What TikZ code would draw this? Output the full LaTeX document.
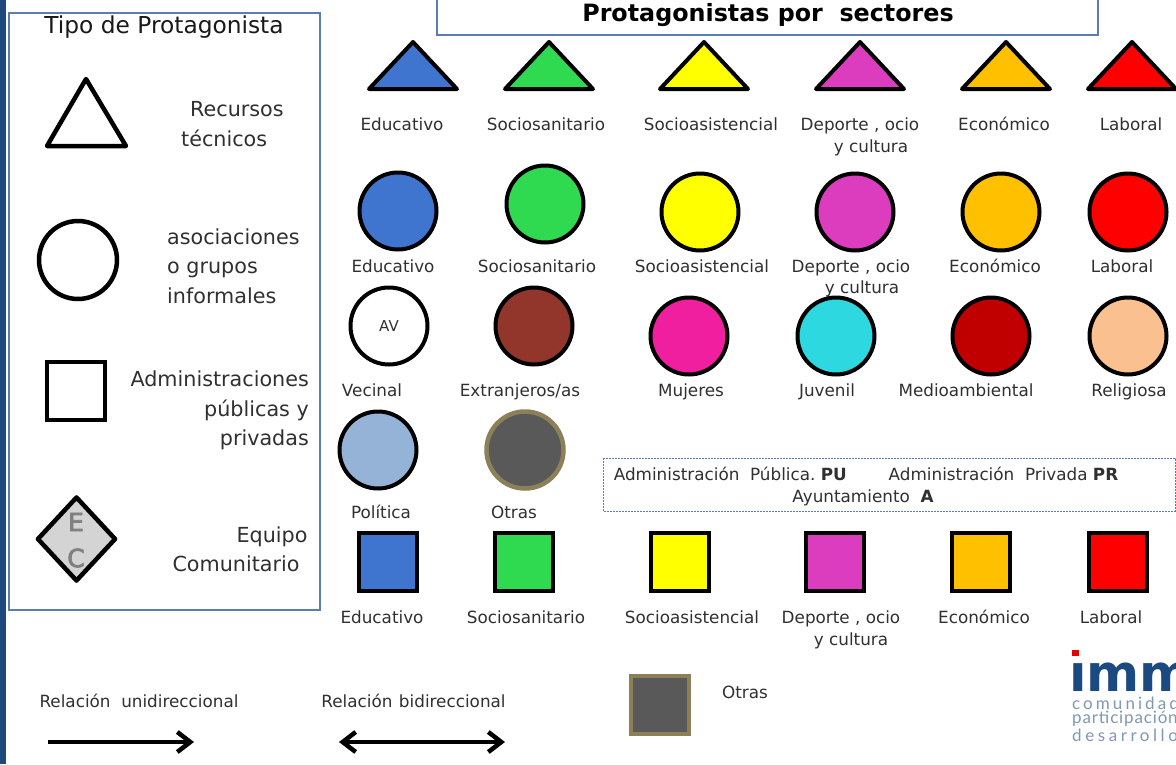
\documentclass[tikz,border=0pt]{standalone}
\usepackage{fontspec}
\setmainfont{DejaVu Sans}
\newfontfamily\logofont[LetterSpace=18]{Lato}
\newfontfamily\logofontb[LetterSpace=5]{Lato}
\newfontfamily\logofontc[LetterSpace=21]{Lato}
\newfontfamily\ecfont[FakeBold=3]{DejaVu Sans}
\usetikzlibrary{arrows.meta,shapes.geometric}
\definecolor{cedu}{HTML}{3F75CE}
\definecolor{csan}{HTML}{30DA50}
\definecolor{csas}{HTML}{FFFF00}
\definecolor{cdep}{HTML}{DC3CBE}
\definecolor{ceco}{HTML}{FFC000}
\definecolor{clab}{HTML}{FF0000}
\definecolor{cext}{HTML}{92352B}
\definecolor{cmuj}{HTML}{F01FA0}
\definecolor{cjuv}{HTML}{2DD8E0}
\definecolor{cmed}{HTML}{C00000}
\definecolor{crel}{HTML}{FAC090}
\definecolor{cpol}{HTML}{95B3D7}
\definecolor{cotr}{HTML}{595959}
\definecolor{cgold}{HTML}{8B8058}
\definecolor{cbar}{HTML}{1F497D}
\definecolor{cbox}{HTML}{5B7DB1}
\definecolor{ctxt}{HTML}{303030}
\definecolor{clogo}{HTML}{1A4A80}
\definecolor{clogob}{HTML}{7F98B5}
\tikzset{
  lab/.style={inner sep=0pt,text=ctxt,font=\fontsize{16.8}{21.5}\selectfont,text height=15pt,text depth=3.6pt},
  side/.style={inner sep=0pt,text=ctxt,font=\fontsize{20.7}{29.5}\selectfont},
  circ/.style={circle,draw=black,line width=4pt,minimum size=77pt,inner sep=0pt},
  sq/.style={rectangle,draw=black,line width=3.5pt,minimum size=58pt,inner sep=0pt},
  tri/.style={line width=4pt,draw=black,line join=round},
  barb/.style={line width=4.5pt,black},
  ectext/.style={inner sep=0pt,text=black!50,font=\fontsize{25}{25}\ecfont},
  logob/.style={inner sep=0pt,anchor=west,text=clogob,font=\fontsize{17}{17}\logofont}
}
\newcommand{\trig}[3]{\fill[#3] (#1-44,#2+48)--(#1,#2+1)--(#1+44,#2+48)--cycle;\draw[tri] (#1-44,#2+48)--(#1,#2+1)--(#1+44,#2+48)--cycle;}
\begin{document}
\begin{tikzpicture}[x=1pt,y=-1pt]
\useasboundingbox (0,0) rectangle (1176,764);
\begin{scope}
\clip (0,0) rectangle (1176,764);
\fill[white] (0,0) rectangle (1176,764);
\fill[cbar] (0,0) rectangle (6,764);
% left panel
\draw[cbox,line width=1.2pt] (9,13) rectangle (320,610);
\node[side,font=\fontsize{23.3}{26}\selectfont,text=black!90] (t0) at (164,27) {Tipo de Protagonista};
\draw[tri,line width=4.5pt] (47,146)--(86,79)--(126,146)--cycle;
\node[side,align=left,anchor=west] (t1) at (181,124) {\hspace*{9pt}Recursos\\técnicos};
\node[circle,draw=black,line width=4.5pt,minimum size=78pt,inner sep=0pt] (c0) at (78,260) {};
\node[side,align=left,anchor=west] (t2) at (167,266) {asociaciones\\o grupos\\informales};
\node[rectangle,draw=black,line width=4.5pt,minimum size=58pt,inner sep=0pt] (s0) at (76,391) {};
\node[side,align=right,anchor=east] (t3) at (309,410.5) {Administraciones\\públicas y\\privadas};
\node[diamond,draw=black,fill=black!17,line width=4.5pt,minimum width=79pt,minimum height=85pt,inner sep=0pt,line join=round] (d0) at (76.5,539) {};
\node[ectext] (de) at (76,522) {E};
\node[ectext] (dc) at (76,558) {C};
\node[side] (t4a) at (272,537) {Equipo};
\node[side] (t4b) at (236,564) {Comunitario};
% title
\draw[cbox,line width=1.2pt] (437,-5) rectangle (1098,35);
\node[inner sep=0pt,font=\fontsize{23.8}{26}\bfseries\selectfont] (title) at (768,15) {Protagonistas por\ \ sectores};
% triangles
\trig{413}{41}{cedu}
\trig{549}{41}{csan}
\trig{704}{41}{csas}
\trig{860}{41}{cdep}
\trig{1006}{41}{ceco}
\trig{1132}{41}{clab}
\node[lab] (a1) at (402,125) {Educativo};
\node[lab] (a2) at (546,125) {Sociosanitario};
\node[lab] (a3) at (711,125) {Socioasistencial};
\node[lab] (a4) at (860,125) {Deporte , ocio};
\node[lab] (a4b) at (871,147) {y cultura};
\node[lab] (a5) at (1004,125) {Económico};
\node[lab] (a6) at (1131,125) {Laboral};
% circles row 1
\node[circ,fill=cedu] (b1) at (398,211) {};
\node[circ,fill=csan] (b2) at (545,204) {};
\node[circ,fill=csas] (b3) at (700,212) {};
\node[circ,fill=cdep] (b4) at (855,212) {};
\node[circ,fill=ceco] (b5) at (1001,212) {};
\node[circ,fill=clab] (b6) at (1128,212) {};
\node[lab] (e1) at (393,267) {Educativo};
\node[lab] (e2) at (537,267) {Sociosanitario};
\node[lab] (e3) at (702,267) {Socioasistencial};
\node[lab] (e4) at (851,267) {Deporte , ocio};
\node[lab] (e4b) at (862,288) {y cultura};
\node[lab] (e5) at (995,267) {Económico};
\node[lab] (e6) at (1122,267) {Laboral};
% circles row 2
\node[circ,fill=white,font=\fontsize{15}{17}\selectfont,text=ctxt] (f1) at (389,326) {AV};
\node[circ,fill=cext] (f2) at (534,326) {};
\node[circ,fill=cmuj] (f3) at (689,336) {};
\node[circ,fill=cjuv] (f4) at (836,336) {};
\node[circ,fill=cmed] (f5) at (991,336) {};
\node[circ,fill=crel] (f6) at (1128,336) {};
\node[lab] (g1) at (372,391) {Vecinal};
\node[lab] (g2) at (520,391) {Extranjeros/as};
\node[lab] (g3) at (691,391) {Mujeres};
\node[lab] (g4) at (827,391) {Juvenil};
\node[lab] (g5) at (966,391) {Medioambiental};
\node[lab] (g6) at (1129,391) {Religiosa};
% circles row 3
\node[circ,fill=cpol] (h1) at (378,450) {};
\node[circ,fill=cotr,draw=cgold,line width=4.5pt] (h2) at (525,450) {};
\node[lab] (i1) at (381,513) {Política};
\node[lab] (i2) at (514,513) {Otras};
% note
\draw[cbox,line width=1pt,dash pattern=on 2pt off 1pt] (603,458) rectangle (1175,511);
\node[lab] (n1) at (866,475) {Administración\ \ Pública.\ \textbf{PU}\hspace{42pt}Administración\ \ Privada \textbf{PR}};
\node[lab] (n2) at (863,497) {Ayuntamiento\ \ \textbf{A}};
% squares
\node[sq,fill=cedu] (j1) at (388,562) {};
\node[sq,fill=csan] (j2) at (524,562) {};
\node[sq,fill=csas] (j3) at (680,562) {};
\node[sq,fill=cdep] (j4) at (835,562) {};
\node[sq,fill=ceco] (j5) at (981,562) {};
\node[sq,fill=clab] (j6) at (1118,562) {};
\node[lab] (k1) at (382,618) {Educativo};
\node[lab] (k2) at (526,618) {Sociosanitario};
\node[lab] (k3) at (692,618) {Socioasistencial};
\node[lab] (k4) at (841,618) {Deporte , ocio};
\node[lab] (k4b) at (851,640) {y cultura};
\node[lab] (k5) at (984,618) {Económico};
\node[lab] (k6) at (1111,618) {Laboral};
\node[sq,fill=cotr,draw=cgold,line width=4.5pt] (j7) at (660,705) {};
\node[lab] (k7) at (745,693) {Otras};
% arrows
\node[lab] (r1) at (139,702) {Relación\ \ unidireccional};
\node[lab] (r2) at (413.5,702) {Relación\hspace{6.5pt}bidireccional};
\coordinate (p1) at (48,742);
\coordinate (p2) at (194,742);
\coordinate (q1) at (339,742);
\coordinate (q2) at (505,742);
\draw[barb,-{Straight Barb[length=13pt,width=20pt,line width=4.5pt]}] (p1) -- (p2);
\draw[barb,{Straight Barb[length=13pt,width=20pt,line width=4.5pt]}-{Straight Barb[length=13pt,width=20pt,line width=4.5pt]}] (q1) -- (q2);
% logo
\node[inner sep=0pt,anchor=base west,text=clogo,font=\fontsize{51}{51}\bfseries\selectfont] (logo) at (1069,691) {imm};
\fill[white] (1069,645) rectangle (1084,660);
\fill[red!90!black] (1072,650) rectangle (1079,656);
\node[logob] (l1) at (1072,703) {comunidad};
\node[logob,font=\fontsize{17}{17}\logofontb] (l2) at (1072,719) {participación};
\node[logob,font=\fontsize{17}{17}\logofontc] (l3) at (1072,735) {desarrollo};
\end{scope}
\end{tikzpicture}
\end{document}
